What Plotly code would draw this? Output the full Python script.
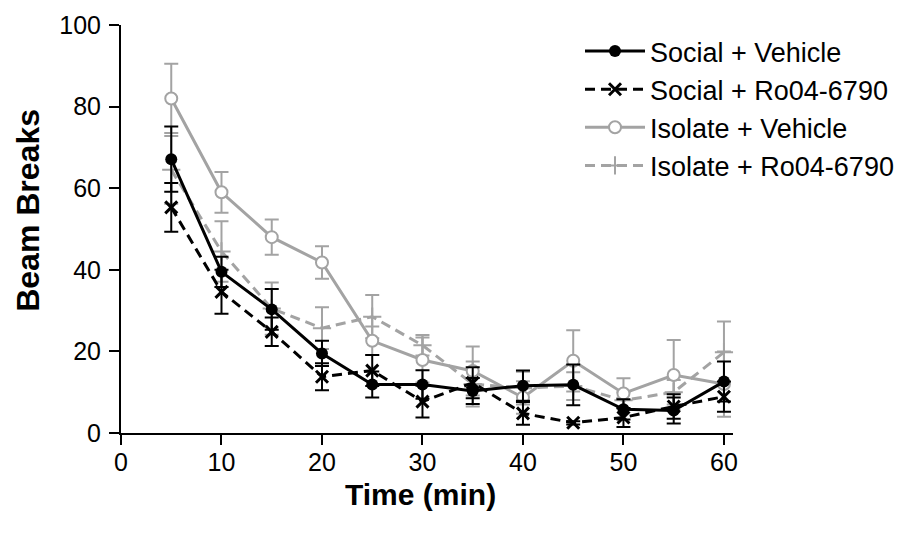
import plotly.graph_objects as go

# time points (min)
time_min = [5, 10, 15, 20, 25, 30, 35, 40, 45, 50, 55, 60]

social_vehicle = [67.1, 39.5, 30.3, 19.5, 11.9, 11.9, 10.3, 11.6, 11.8, 5.8, 5.5, 12.6]
social_vehicle_sem = [8.0, 3.7, 5.0, 3.1, 3.2, 3.5, 3.2, 3.7, 5.0, 2.5, 3.2, 4.9]

social_ro = [55.3, 34.6, 24.8, 13.8, 15.3, 7.7, 12.3, 4.8, 2.5, 3.8, 6.5, 8.9]
social_ro_sem = [6.0, 5.4, 3.5, 3.3, 3.8, 3.9, 3.8, 2.8, 0.4, 2.3, 3.0, 3.7]

isolate_vehicle = [82.0, 59.0, 48.0, 41.8, 22.6, 17.9, 15.2, 8.7, 17.7, 9.7, 14.2, 12.0]
isolate_vehicle_sem = [8.5, 5.0, 4.3, 4.0, 3.5, 5.5, 6.0, 4.0, 7.5, 3.7, 8.6, 8.0]

isolate_ro = [64.5, 44.5, 30.5, 25.7, 28.5, 21.5, 12.0, 11.0, 11.5, 8.0, 10.0, 19.8]
isolate_ro_sem = [8.3, 7.4, 6.4, 5.1, 5.3, 2.5, 5.5, 4.0, 3.4, 2.0, 3.0, 7.5]

x_ticks = [0, 10, 20, 30, 40, 50, 60]
y_ticks = [0, 20, 40, 60, 80, 100]

BLACK = "#000000"
GREY = "#a3a3a3"
FONT = "Liberation Sans, Arial, sans-serif"


def series(name, y, sem, color, dash, symbol, fill, rank, msize=12, mline=0):
    return go.Scatter(
        x=time_min,
        y=y,
        name=name,
        mode="lines+markers",
        line={"color": color, "width": 3, "dash": dash},
        marker={
            "symbol": symbol,
            "size": msize,
            "color": fill,
            "line": {"color": color, "width": mline},
        },
        error_y={
            "type": "data",
            "array": sem,
            "visible": True,
            "color": color,
            "thickness": 2,
            "width": 7,
        },
        cliponaxis=False,
        legendrank=rank,
    )


fig = go.Figure()
# grey series first so the black ones sit on top
fig.add_trace(series("Isolate + Ro04-6790", isolate_ro, isolate_ro_sem, GREY,
                     "10px,6px", "cross-thin", GREY, 4, msize=13, mline=2))
fig.add_trace(series("Isolate + Vehicle", isolate_vehicle, isolate_vehicle_sem, GREY,
                     "solid", "circle", "white", 3, msize=12, mline=2))
fig.add_trace(series("Social + Ro04-6790", social_ro, social_ro_sem, BLACK,
                     "10px,6px", "x-thin", BLACK, 2, msize=12, mline=3))
fig.add_trace(series("Social + Vehicle", social_vehicle, social_vehicle_sem, BLACK,
                     "solid", "circle", BLACK, 1, msize=12, mline=0))

axis_common = dict(
    showline=True,
    linecolor=BLACK,
    linewidth=2,
    ticks="outside",
    ticklen=10,
    tickwidth=2,
    tickcolor=BLACK,
    showgrid=False,
    zeroline=False,
    tickfont={"family": FONT, "size": 25, "color": BLACK},
)

fig.update_xaxes(range=[0, 60.9], tickvals=x_ticks, ticklabelstandoff=-4, **axis_common)
fig.update_yaxes(range=[0, 100], tickvals=y_ticks, ticklabelstandoff=3, **axis_common)

# axis titles placed as annotations to match the reference offsets
fig.add_annotation(
    text="<b>Time (min)</b>", xref="paper", yref="paper", x=0.49, y=-0.15,
    showarrow=False, font={"family": FONT, "size": 30, "color": BLACK},
    xanchor="center", yanchor="middle",
)
fig.add_annotation(
    text="<b>Beam Breaks</b>", xref="paper", yref="paper", x=-0.152, y=0.547,
    showarrow=False, textangle=-90, font={"family": FONT, "size": 32, "color": BLACK},
    xanchor="center", yanchor="middle",
)

fig.update_layout(
    width=914,
    height=525,
    margin={"l": 113, "r": 189, "t": 17, "b": 100, "autoexpand": False},
    paper_bgcolor="white",
    plot_bgcolor="white",
    showlegend=True,
    legend={
        "x": 0.75,
        "y": 0.995,
        "xanchor": "left",
        "yanchor": "top",
        "font": {"family": FONT, "size": 27, "color": BLACK},
        "bgcolor": "rgba(0,0,0,0)",
        "itemwidth": 60,
    },
)

fig.write_html("out.html")
